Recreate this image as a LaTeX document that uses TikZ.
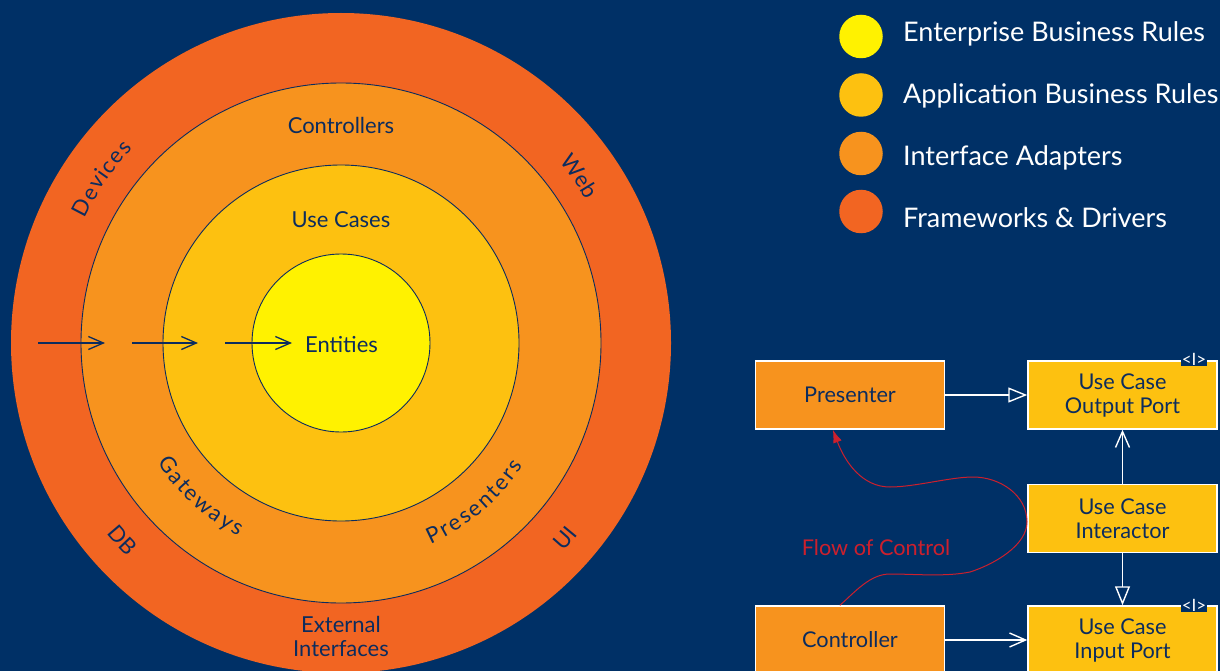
\documentclass[tikz,border=0pt]{standalone}
\usepackage{fontspec}
\setmainfont{Lato}
\usetikzlibrary{arrows.meta,calc,decorations.text}
\definecolor{bg}{RGB}{0,48,102}
\definecolor{fw}{RGB}{242,101,34}
\definecolor{ia}{RGB}{247,147,30}
\definecolor{uc}{RGB}{253,193,16}
\definecolor{en}{RGB}{255,242,0}
\definecolor{ink}{RGB}{12,44,94}
\definecolor{flow}{RGB}{204,32,45}
\tikzset{
  ring/.style={circle, inner sep=0pt, draw=ink, line width=0.9pt},
  lbl/.style={text=ink, font=\fontsize{22}{24}\selectfont, inner sep=0pt},
  arclbl/.style={decorate, decoration={text along path, text align=center,
     text={|\fontsize{22}{22}\selectfont\color{ink}|#1}}},
  arcfit/.style={decorate, decoration={text along path, text align=fit to path,
     text={|\fontsize{22}{22}\selectfont\color{ink}|#1}}},
  legdot/.style={circle, inner sep=0pt, minimum size=43.5pt},
  legtxt/.style={text=white, font=\fontsize{27}{30}\selectfont, inner sep=0pt, anchor=base west},
  box/.style={draw=white, line width=1.5pt, minimum width=189pt, minimum height=68pt, inner sep=0pt, align=center, text=ink, font=\fontsize{21.7}{24}\selectfont},
  tag/.style={fill=bg, text=white, inner sep=0.5pt, font=\fontsize{17}{17}\selectfont},
  wline/.style={draw=white, line width=1.4pt},
  inarrow/.style={draw=ink, line width=1.3pt, -{Straight Barb[length=15pt,width=13pt]}},
  openv/.style={-{Straight Barb[length=16pt,width=14pt]}},
  opentri/.style={-{Triangle[open,length=19pt,width=15pt]}}
}
\begin{document}
\begin{tikzpicture}[x=1pt,y=-1pt]
\fill[bg] (0,0) rectangle (1220,671);
\useasboundingbox (0,0) rectangle (1220,671);
% rings
\node[circle, inner sep=0pt, minimum size=660pt, fill=fw] (fwc) at (341,343) {};
\node[ring, minimum size=520pt, fill=ia] (iac) at (341,343) {};
\node[ring, minimum size=356pt, fill=uc] (ucc) at (341,343) {};
\node[ring, minimum size=178pt, fill=en] (enc) at (341,343) {};
% ring labels
\node[lbl, anchor=base] (lctrl) at (341,134) {Controllers};
\node[lbl, anchor=base] (luc) at (341,227) {Use Cases};
\node[lbl, anchor=base] (lent) at (341.5,352) {Entities};
\node[lbl, anchor=base, align=center] (lext) at (341,656) {External\\Interfaces};
\begin{scope}[shift={(341,343)}, x=1pt, y=1pt]
  % top labels: clockwise paths, baseline inside the text centre
  \path[arcfit=Devices] (154:285) arc[start angle=154, end angle=137, radius=285pt];
  \path[arclbl=Web] (60:284) arc[start angle=60, end angle=10, radius=284pt];
  % bottom labels: counter-clockwise paths, baseline outside the text centre
  \path[arclbl=DB] (197:302) arc[start angle=197, end angle=247, radius=302pt];
  \path[arclbl=UI] (294:305) arc[start angle=294, end angle=344, radius=305pt];
  \path[arcfit=Gateways] (213:219) arc[start angle=213, end angle=242, radius=219pt];
  \path[arcfit=Presenters] (294:220) arc[start angle=294, end angle=326, radius=220pt];
\end{scope}
% inward arrows
\coordinate (a1s) at (38,343);  \coordinate (a1e) at (105,343);
\coordinate (a2s) at (132,343); \coordinate (a2e) at (198,343);
\coordinate (a3s) at (225,343); \coordinate (a3e) at (292,343);
\draw[inarrow] (a1s) -- (a1e);
\draw[inarrow] (a2s) -- (a2e);
\draw[inarrow] (a3s) -- (a3e);
% legend
\node[legdot, fill=en] (d1) at (861,36.5) {};
\node[legdot, fill=uc] (d2) at (861,95) {};
\node[legdot, fill=ia] (d3) at (861,153.5) {};
\node[legdot, fill=fw] (d4) at (861,211.5) {};
\node[legtxt] (t1) at (903,42) {Enterprise Business Rules};
\node[legtxt] (t2) at (903,104) {Application Business Rules};
\node[legtxt] (t3) at (903,166) {Interface Adapters};
\node[legtxt] (t4) at (903,227) {Frameworks \& Drivers};
% boxes
\node[box, fill=ia] (pres) at (850,395) {Presenter};
\node[box, fill=uc] (outp) at (1122.5,395) {Use Case\\Output Port};
\node[box, fill=uc] (inter) at (1122.5,518.5) {Use Case\\Interactor};
\node[box, fill=ia] (ctrl) at (850,640) {Controller};
\node[box, fill=uc] (inp) at (1122.5,640) {Use Case\\Input Port};
\node[tag] (tagA) at (1194,359) {<I>};
\node[tag] (tagB) at (1194,605) {<I>};
% connectors
\draw[wline, opentri] (pres.east) -- (outp.west);
\draw[wline, openv] (inter.north) -- (outp.south);
\draw[wline, opentri] (inter.south) -- (inp.north);
\draw[wline, openv] (ctrl.east) -- (inp.west);
% flow of control
\coordinate (fs) at ($(ctrl.north west)!0.447!(ctrl.north east)$);
\coordinate (fe) at ($(pres.south west)!0.41!(pres.south east)$);
\draw[flow, line width=1pt, -{Latex[length=13pt,width=9pt]}]
  (fs) .. controls (855,592) and (870,574) .. (890,574)
       .. controls (915,574) and (945,577) .. (970,572)
       .. controls (995,564) and (1027,545) .. (1027,522)
       .. controls (1027,495) and (1000,477) .. (973,477)
       .. controls (950,477) and (915,487) .. (890,487)
       .. controls (862,487) and (845,462) .. (fe);
\node[anchor=base, text=flow, font=\fontsize{21.7}{24}\selectfont, inner sep=0pt] (flowlbl) at (876,555) {Flow of Control};
\end{tikzpicture}
\end{document}
